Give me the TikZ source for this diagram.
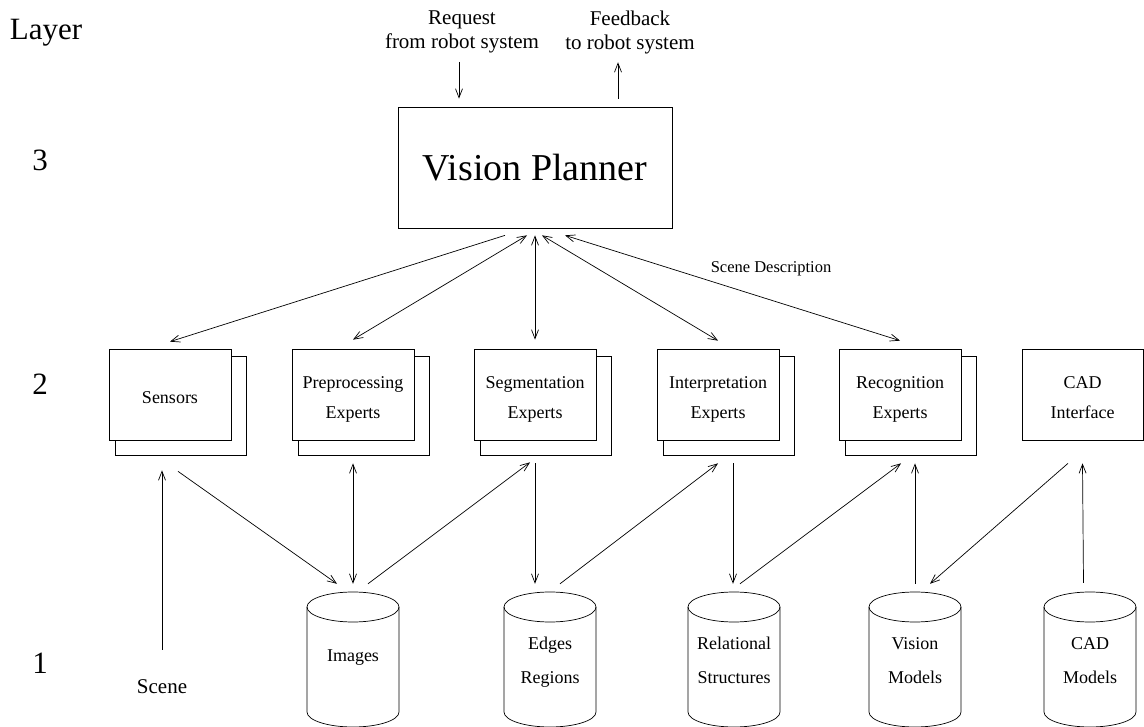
\documentclass[tikz,border=0pt]{standalone}
\usepackage{fontspec}
\setmainfont{Liberation Serif}
\usetikzlibrary{arrows.meta}
\tikzset{
  arr/.style={line width=0.7pt,-{Straight Barb[length=9pt,width=7pt]}},
  bi/.style={line width=0.7pt,{Straight Barb[length=9pt,width=7pt]}-{Straight Barb[length=9pt,width=7pt]}},
  card/.style={draw,line width=0.7pt,minimum width=122pt,minimum height=91pt,inner sep=0pt,align=center,text depth=0pt,text height=47pt,font=\fontsize{18}{30}\selectfont},
  oneline/.style={text height=19pt},
  dbnode/.style={minimum width=92pt,minimum height=120pt,inner sep=0pt,align=center,text depth=0pt,text height=62pt,font=\fontsize{18}{34}\selectfont},
  lbl/.style={inner sep=0pt,align=center},
  bigl/.style={lbl,font=\fontsize{31}{34}\selectfont},
  outline/.style={line width=0.7pt}
}
\newcommand\backcard[1]{%
  \draw[outline] ([yshift=-8pt]#1.north east) -- ([xshift=15pt,yshift=-8pt]#1.north east)
    -- ([xshift=15pt,yshift=-15pt]#1.south east) -- ([xshift=7pt,yshift=-15pt]#1.south west)
    -- ([xshift=7pt]#1.south west);}
\newcommand\dbase[4][]{%
  \node[dbnode,#1] (#2) at (#3,652) {#4};
  \draw[outline] (#3,607) ellipse [x radius=46, y radius=15];
  \draw[outline] (#3-46,607) -- (#3-46,712) arc[start angle=180,end angle=0,x radius=46,y radius=15] -- (#3+46,607);}
\begin{document}
\begin{tikzpicture}[x=1pt,y=-1pt]
\useasboundingbox (0,0) rectangle (1144,727);
% layer labels
\node[bigl] (layer) at (46,33) {Layer};
\node[bigl] (l3) at (40,160) {3};
\node[bigl] (l2) at (40,384) {2};
\node[bigl] (l1) at (40,663) {1};
% top
\node[lbl,font=\fontsize{21}{24}\selectfont] (req) at (462,32) {Request\\from robot system};
\node[lbl,font=\fontsize{21}{24}\selectfont] (fb) at (630,32) {Feedback\\to robot system};
\node[draw,line width=0.7pt,minimum width=274pt,minimum height=121pt,inner sep=0pt,font=\fontsize{38}{40}\selectfont] (vp) at (535,167.5) {Vision Planner};
\draw[arr] ([xshift=-3pt,yshift=-8.5pt]req.south) -- ([xshift=-76pt,yshift=8pt]vp.north);
\draw[arr] ([xshift=83pt,yshift=8pt]vp.north) -- ([xshift=-12pt,yshift=-8.5pt]fb.south);
% layer 2
\node[card,oneline] (sen) at (170,394.5) {Sensors};
\node[card] (pre) at (353,394.5) {Preprocessing\\Experts};
\node[card] (seg) at (535,394.5) {Segmentation\\Experts};
\node[card] (int) at (718,394.5) {Interpretation\\Experts};
\node[card] (rec) at (900,394.5) {Recognition\\Experts};
\node[card,minimum width=121pt] (cadi) at (1082.5,394.5) {CAD\\Interface};
\backcard{sen}\backcard{pre}\backcard{seg}\backcard{int}\backcard{rec}
% planner links
\draw[arr] ([xshift=-30pt,yshift=-7pt]vp.south) -- ([yshift=7pt]sen.north);
\draw[bi] ([xshift=-8pt,yshift=-7pt]vp.south) -- ([yshift=9pt]pre.north);
\draw[bi] ([yshift=-7pt]vp.south) -- ([yshift=9pt]seg.north);
\draw[bi] ([xshift=7pt,yshift=-7pt]vp.south) -- ([yshift=8pt]int.north);
\draw[bi] ([xshift=30pt,yshift=-7pt]vp.south) -- ([yshift=8pt]rec.north);
\node[lbl,font=\fontsize{16.5}{20}\selectfont] (sd) at (771,269) {Scene Description};
% layer 1
\node[lbl,font=\fontsize{21}{24}\selectfont] (scene) at (162,687) {Scene};
\dbase[text height=18pt]{img}{353}{Images}
\dbase{edg}{550}{Edges\\Regions}
\dbase{rel}{734}{Relational\\Structures}
\dbase{vis}{915}{Vision\\Models}
\dbase{cadm}{1090}{CAD\\Models}
% lower links
\draw[arr] ([yshift=30pt]scene.north) -- ([xshift=-8pt,yshift=-30pt]sen.south);
\draw[arr] ([xshift=8pt,yshift=-31pt]sen.south) -- ([xshift=-16pt,yshift=8pt]img.north);
\draw[bi] ([yshift=-23pt]pre.south) -- ([yshift=8pt]img.north);
\draw[arr] ([xshift=15pt,yshift=8pt]img.north) -- ([xshift=-5pt,yshift=-22pt]seg.south);
\draw[arr] ([yshift=-23pt]seg.south) -- ([xshift=-15pt,yshift=8pt]edg.north);
\draw[arr] ([xshift=10pt,yshift=8pt]edg.north) -- ([yshift=-23pt]int.south);
\draw[arr] ([xshift=15pt,yshift=-23pt]int.south) -- ([xshift=-1pt,yshift=8pt]rel.north);
\draw[arr] ([xshift=6pt,yshift=8pt]rel.north) -- ([xshift=1pt,yshift=-23pt]rec.south);
\draw[arr] ([yshift=8pt]vis.north) -- ([xshift=15pt,yshift=-23pt]rec.south);
\draw[arr] ([xshift=-14.5pt,yshift=-23pt]cadi.south) -- ([xshift=15pt,yshift=8pt]vis.north);
\draw[arr] ([xshift=-6.5pt,yshift=9pt]cadm.north) -- ([yshift=-23pt]cadi.south);
\end{tikzpicture}
\end{document}
